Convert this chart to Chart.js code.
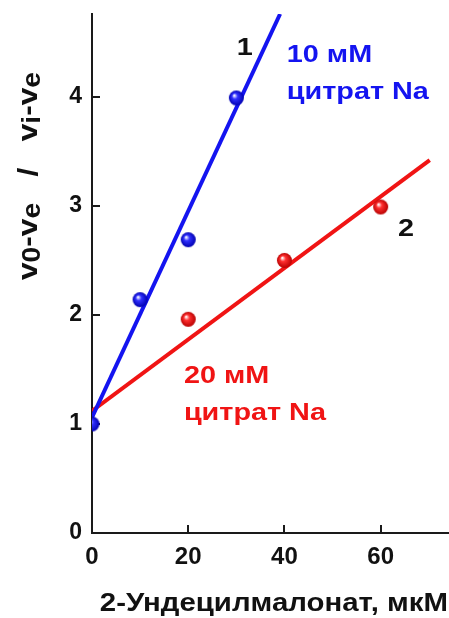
<!DOCTYPE html>
<html>
<head>
<meta charset="utf-8">
<script src="https://cdn.jsdelivr.net/npm/chart.js@4/dist/chart.umd.min.js"></script>
<style>
  html, body { margin: 0; padding: 0; background: #ffffff; }
  #c { display: block; }
</style>
</head>
<body>
<canvas id="c" width="449" height="618"></canvas>
<script>
// Measured points, 10 mM sodium citrate (curve 1)
const conc1 = [0, 10, 20, 30];
const ratio1 = [1.0, 2.14, 2.69, 3.99];
// Measured points, 20 mM sodium citrate (curve 2)
const conc2 = [20, 40, 60];
const ratio2 = [1.96, 2.50, 2.99];
// Straight-line fits, given by their two end points
const fit1X = [0, 39.1];
const fit1Y = [1.06, 4.76];
const fit2X = [0, 70.2];
const fit2Y = [1.12, 3.42];
// Axis ticks
const xTicks = [0, 20, 40, 60];
const yTicks = [0, 1, 2, 3, 4];

const FONT = '"Liberation Sans", Arial, Helvetica, sans-serif';
const BLUE = '#1414f0';
const RED = '#f01414';
const INK = '#111111';
const STRETCH = 1.13;
const NOTE_STRETCH = 1.2;

// Shaded sphere used as a point marker
function ball(base, dark, r) {
  const s = Math.ceil(r * 2 + 2);
  const c = document.createElement('canvas');
  c.width = s; c.height = s;
  const g = c.getContext('2d');
  const cx = s / 2, cy = s / 2;
  const grad = g.createRadialGradient(cx - r * 0.3, cy - r * 0.35, r * 0.05, cx, cy, r);
  grad.addColorStop(0, '#ffffff');
  grad.addColorStop(0.35, base);
  grad.addColorStop(1, dark);
  g.fillStyle = grad;
  g.beginPath();
  g.arc(cx, cy, r, 0, Math.PI * 2);
  g.fill();
  return c;
}

function pts(xs, ys) { return xs.map((x, i) => ({ x: x, y: ys[i] })); }

// Horizontally widened text
function wideText(ctx, text, x, y, sx) {
  ctx.save();
  ctx.translate(x, y);
  ctx.scale(sx, 1);
  ctx.fillText(text, 0, 0);
  ctx.restore();
}

// Tick marks pointing into the plot area
const inwardTicks = {
  id: 'inwardTicks',
  beforeDatasetsDraw(chart) {
    const { ctx, chartArea, scales } = chart;
    ctx.save();
    ctx.strokeStyle = '#1a1a1a';
    ctx.lineWidth = 2;
    ctx.beginPath();
    xTicks.forEach(v => {
      if (v === 0) return;
      const px = Math.round(scales.x.getPixelForValue(v));
      ctx.moveTo(px, chartArea.bottom);
      ctx.lineTo(px, chartArea.bottom - 8);
    });
    yTicks.forEach(v => {
      if (v === 0) return;
      const py = Math.round(scales.y.getPixelForValue(v));
      ctx.moveTo(chartArea.left, py);
      ctx.lineTo(chartArea.left + 8, py);
    });
    ctx.stroke();
    ctx.restore();
  }
};

// Curve numbers and buffer captions, anchored in data units
const notes = [
  { text: '1', x: 30.1, y: 4.385, color: INK },
  { text: '10 мМ', x: 40.5, y: 4.32, color: BLUE },
  { text: 'цитрат Na', x: 40.5, y: 3.98, color: BLUE },
  { text: '2', x: 63.6, y: 2.72, color: INK },
  { text: '20 мМ', x: 19.1, y: 1.376, color: RED },
  { text: 'цитрат Na', x: 19.1, y: 1.037, color: RED }
];

const captions = {
  id: 'captions',
  afterDraw(chart) {
    const { ctx, scales } = chart;
    ctx.save();
    ctx.textAlign = 'left';
    ctx.textBaseline = 'alphabetic';
    ctx.font = 'bold 24px ' + FONT;
    notes.forEach(n => {
      ctx.fillStyle = n.color;
      wideText(ctx, n.text, scales.x.getPixelForValue(n.x), scales.y.getPixelForValue(n.y), NOTE_STRETCH);
    });

    // x-axis title
    ctx.fillStyle = INK;
    ctx.font = 'bold 26px ' + FONT;
    const xt = '2-Ундецилмалонат, мкМ';
    const w = ctx.measureText(xt).width * STRETCH;
    wideText(ctx, xt, 448 - w, 611, STRETCH);

    // y-axis title with subscripts, rotated
    const segs = [
      ['v', 0], ['0', 1], ['-v', 0], ['e', 1], ['   /   ', 0],
      ['v', 0], ['i', 1], ['-v', 0], ['e', 1]
    ];
    const mainF = 'bold 28px ' + FONT, subF = 'bold 25px ' + FONT;
    let total = 0;
    segs.forEach(s => { ctx.font = s[1] ? subF : mainF; total += ctx.measureText(s[0]).width * STRETCH; });
    ctx.translate(37, 176);
    ctx.rotate(-Math.PI / 2);
    let cx = -total / 2;
    segs.forEach(s => {
      ctx.font = s[1] ? subF : mainF;
      wideText(ctx, s[0], cx, s[1] ? 3 : 0, STRETCH);
      cx += ctx.measureText(s[0]).width * STRETCH;
    });
    ctx.restore();
  }
};

const blueBall = ball('#3030ff', '#0000b0', 7.5);
const redBall = ball('#ff3030', '#b80000', 7.5);

// Remove the automatic label overhang so the plot area is set by layout padding only
function noOverhang(s) {
  s.paddingTop = 0; s.paddingBottom = 0; s.paddingLeft = 0; s.paddingRight = 0;
}

new Chart(document.getElementById('c'), {
  type: 'scatter',
  data: {
    datasets: [
      { label: '1', data: pts(conc1, ratio1), pointStyle: blueBall, pointRadius: 8, clip: 0, order: 0 },
      { label: '2', data: pts(conc2, ratio2), pointStyle: redBall, pointRadius: 8, clip: 0, order: 0 },
      { label: 'fit 1', data: pts(fit1X, fit1Y), showLine: true, borderColor: BLUE, borderWidth: 4,
        pointRadius: 0, clip: 0, order: 1 },
      { label: 'fit 2', data: pts(fit2X, fit2Y), showLine: true, borderColor: RED, borderWidth: 4,
        pointRadius: 0, clip: 0, order: 1 }
    ]
  },
  options: {
    responsive: false,
    animation: false,
    devicePixelRatio: 1,
    layout: { autoPadding: false, padding: { top: 14, right: 1, left: 0, bottom: 0 } },
    plugins: { legend: { display: false }, tooltip: { enabled: false } },
    scales: {
      x: {
        type: 'linear', min: 0, max: 74,
        afterBuildTicks: s => { s.ticks = xTicks.map(v => ({ value: v })); },
        afterFit: s => { s.height = 85; noOverhang(s); },
        grid: { drawOnChartArea: false, drawTicks: false },
        border: { color: '#1a1a1a', width: 2 },
        ticks: { font: { family: FONT, size: 24, weight: 'bold' }, color: INK, padding: 10, maxRotation: 0 }
      },
      y: {
        type: 'linear', min: 0, max: 4.76,
        afterBuildTicks: s => { s.ticks = yTicks.map(v => ({ value: v })); },
        afterFit: s => { s.width = 92; noOverhang(s); },
        grid: { drawOnChartArea: false, drawTicks: false },
        border: { color: '#1a1a1a', width: 2 },
        ticks: { font: { family: FONT, size: 23, weight: 'bold' }, color: INK, padding: 10 }
      }
    }
  },
  plugins: [inwardTicks, captions]
});
</script>
</body>
</html>
